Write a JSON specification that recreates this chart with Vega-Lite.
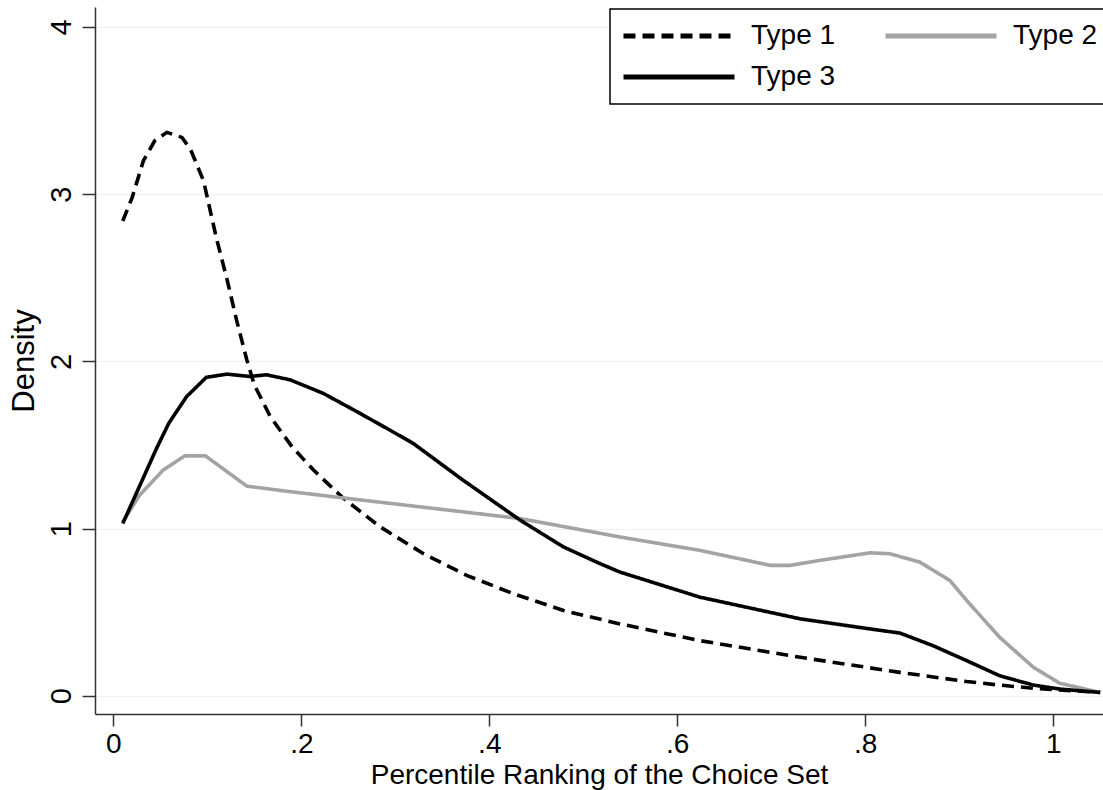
{
  "$schema": "https://vega.github.io/schema/vega-lite/v6.json",
  "width": 1008,
  "height": 707,
  "autosize": "none",
  "padding": {"left": 95, "top": 7, "right": 0, "bottom": 76},
  "background": "white",
  "config": {"view": {"stroke": null}, "font": "Liberation Sans"},
  "data": {
    "values": [
      {"type": "Type 1", "x": 0.01, "y": 2.84},
      {"type": "Type 1", "x": 0.02, "y": 2.98},
      {"type": "Type 1", "x": 0.032, "y": 3.2},
      {"type": "Type 1", "x": 0.044, "y": 3.32},
      {"type": "Type 1", "x": 0.057, "y": 3.37},
      {"type": "Type 1", "x": 0.073, "y": 3.34},
      {"type": "Type 1", "x": 0.082, "y": 3.27},
      {"type": "Type 1", "x": 0.096, "y": 3.08},
      {"type": "Type 1", "x": 0.11, "y": 2.73},
      {"type": "Type 1", "x": 0.121, "y": 2.49},
      {"type": "Type 1", "x": 0.131, "y": 2.25},
      {"type": "Type 1", "x": 0.142, "y": 2.01},
      {"type": "Type 1", "x": 0.15, "y": 1.86},
      {"type": "Type 1", "x": 0.167, "y": 1.67},
      {"type": "Type 1", "x": 0.19, "y": 1.49},
      {"type": "Type 1", "x": 0.213, "y": 1.35},
      {"type": "Type 1", "x": 0.245, "y": 1.18},
      {"type": "Type 1", "x": 0.284, "y": 1.01},
      {"type": "Type 1", "x": 0.33, "y": 0.85},
      {"type": "Type 1", "x": 0.376, "y": 0.72},
      {"type": "Type 1", "x": 0.426, "y": 0.61},
      {"type": "Type 1", "x": 0.479, "y": 0.51},
      {"type": "Type 1", "x": 0.539, "y": 0.43},
      {"type": "Type 1", "x": 0.624, "y": 0.33},
      {"type": "Type 1", "x": 0.731, "y": 0.23},
      {"type": "Type 1", "x": 0.837, "y": 0.14},
      {"type": "Type 1", "x": 0.908, "y": 0.085},
      {"type": "Type 1", "x": 0.943, "y": 0.064},
      {"type": "Type 1", "x": 0.979, "y": 0.045},
      {"type": "Type 1", "x": 1.05, "y": 0.02},
      {"type": "Type 2", "x": 0.01, "y": 1.04},
      {"type": "Type 2", "x": 0.028, "y": 1.2},
      {"type": "Type 2", "x": 0.053, "y": 1.35},
      {"type": "Type 2", "x": 0.076, "y": 1.435},
      {"type": "Type 2", "x": 0.098, "y": 1.435},
      {"type": "Type 2", "x": 0.142, "y": 1.254},
      {"type": "Type 2", "x": 0.181, "y": 1.226},
      {"type": "Type 2", "x": 0.25, "y": 1.18},
      {"type": "Type 2", "x": 0.319, "y": 1.135},
      {"type": "Type 2", "x": 0.433, "y": 1.06},
      {"type": "Type 2", "x": 0.539, "y": 0.95},
      {"type": "Type 2", "x": 0.624, "y": 0.87},
      {"type": "Type 2", "x": 0.699, "y": 0.78},
      {"type": "Type 2", "x": 0.72, "y": 0.78},
      {"type": "Type 2", "x": 0.752, "y": 0.81},
      {"type": "Type 2", "x": 0.805, "y": 0.855},
      {"type": "Type 2", "x": 0.826, "y": 0.85},
      {"type": "Type 2", "x": 0.858, "y": 0.8},
      {"type": "Type 2", "x": 0.89, "y": 0.69},
      {"type": "Type 2", "x": 0.908, "y": 0.57},
      {"type": "Type 2", "x": 0.943, "y": 0.35},
      {"type": "Type 2", "x": 0.979, "y": 0.17},
      {"type": "Type 2", "x": 1.007, "y": 0.075},
      {"type": "Type 2", "x": 1.05, "y": 0.02},
      {"type": "Type 3", "x": 0.01, "y": 1.03},
      {"type": "Type 3", "x": 0.046, "y": 1.48},
      {"type": "Type 3", "x": 0.059, "y": 1.63},
      {"type": "Type 3", "x": 0.078, "y": 1.79},
      {"type": "Type 3", "x": 0.099, "y": 1.905},
      {"type": "Type 3", "x": 0.121, "y": 1.924},
      {"type": "Type 3", "x": 0.145, "y": 1.91},
      {"type": "Type 3", "x": 0.163, "y": 1.92},
      {"type": "Type 3", "x": 0.188, "y": 1.89},
      {"type": "Type 3", "x": 0.223, "y": 1.81},
      {"type": "Type 3", "x": 0.259, "y": 1.7},
      {"type": "Type 3", "x": 0.294, "y": 1.59},
      {"type": "Type 3", "x": 0.319, "y": 1.51},
      {"type": "Type 3", "x": 0.372, "y": 1.29},
      {"type": "Type 3", "x": 0.433, "y": 1.05},
      {"type": "Type 3", "x": 0.479, "y": 0.89},
      {"type": "Type 3", "x": 0.518, "y": 0.79},
      {"type": "Type 3", "x": 0.539, "y": 0.74},
      {"type": "Type 3", "x": 0.624, "y": 0.59},
      {"type": "Type 3", "x": 0.731, "y": 0.46},
      {"type": "Type 3", "x": 0.805, "y": 0.4},
      {"type": "Type 3", "x": 0.837, "y": 0.375},
      {"type": "Type 3", "x": 0.872, "y": 0.3},
      {"type": "Type 3", "x": 0.908, "y": 0.21},
      {"type": "Type 3", "x": 0.943, "y": 0.12},
      {"type": "Type 3", "x": 0.979, "y": 0.064},
      {"type": "Type 3", "x": 1.007, "y": 0.04},
      {"type": "Type 3", "x": 1.05, "y": 0.02}
    ]
  },
  "mark": {"type": "line", "strokeWidth": 3.6, "clip": true},
  "encoding": {
    "x": {
      "field": "x",
      "type": "quantitative",
      "scale": {"domain": [-0.0195, 1.053], "nice": false, "zero": false},
      "axis": {
        "values": [0, 0.2, 0.4, 0.6, 0.8, 1],
        "labelExpr": "datum.value == 0 ? '0' : datum.value == 1 ? '1' : replace(format(datum.value, '.1f'), '0.', '.')",
        "title": "Percentile Ranking of the Choice Set",
        "grid": false,
        "domainColor": "#333333",
        "domainWidth": 1.5,
        "tickColor": "#333333",
        "tickWidth": 1.5,
        "tickSize": 12,
        "labelFontSize": 28,
        "labelColor": "#000000",
        "labelPadding": 4,
        "labelFlush": false,
        "labelOverlap": false,
        "titleFontSize": 28,
        "titleFontWeight": "normal",
        "titleColor": "#000000",
        "titlePadding": 3
      }
    },
    "y": {
      "field": "y",
      "type": "quantitative",
      "scale": {"domain": [-0.109, 4.12], "nice": false, "zero": false},
      "axis": {
        "values": [0, 1, 2, 3, 4],
        "format": "d",
        "title": "Density",
        "grid": true,
        "gridColor": "#eaf2f3",
        "gridWidth": 1,
        "domainColor": "#333333",
        "domainWidth": 1.5,
        "tickColor": "#333333",
        "tickWidth": 1.5,
        "tickSize": 13,
        "labelAngle": -90,
        "labelAlign": "center",
        "labelBaseline": "bottom",
        "labelFontSize": 29,
        "labelColor": "#000000",
        "labelPadding": 6,
        "labelFlush": false,
        "labelOverlap": false,
        "titleFontSize": 31,
        "titleFontWeight": "normal",
        "titleColor": "#000000",
        "titlePadding": 7
      }
    },
    "color": {
      "field": "type",
      "type": "nominal",
      "scale": {"domain": ["Type 1", "Type 2", "Type 3"], "range": ["#000000", "#a3a3a3", "#000000"]},
      "legend": {
        "title": null,
        "orient": "none",
        "legendX": 515,
        "legendY": 2,
        "columns": 2,
        "direction": "horizontal",
        "symbolType": "stroke",
        "symbolSize": 12321,
        "symbolStrokeWidth": 5,
        "labelFontSize": 28,
        "labelColor": "#000000",
        "labelOffset": 14,
        "clipHeight": 32,
        "rowPadding": 9,
        "columnPadding": 47,
        "padding": 11,
        "strokeColor": "#000000",
        "fillColor": "#ffffff",
        "encode": {"legend": {"update": {"strokeWidth": {"value": 1.5}}}}
      }
    },
    "strokeDash": {
      "field": "type",
      "type": "nominal",
      "scale": {"domain": ["Type 1", "Type 2", "Type 3"], "range": [[12, 7], [1, 0], [1, 0]]},
      "legend": {
        "title": null,
        "orient": "none",
        "legendX": 515,
        "legendY": 2,
        "columns": 2,
        "direction": "horizontal",
        "symbolType": "stroke",
        "symbolSize": 12321,
        "symbolStrokeWidth": 5,
        "labelFontSize": 28,
        "labelColor": "#000000",
        "labelOffset": 14,
        "clipHeight": 32,
        "rowPadding": 9,
        "columnPadding": 47,
        "padding": 11,
        "strokeColor": "#000000",
        "fillColor": "#ffffff",
        "encode": {"legend": {"update": {"strokeWidth": {"value": 1.5}}}}
      }
    }
  }
}
